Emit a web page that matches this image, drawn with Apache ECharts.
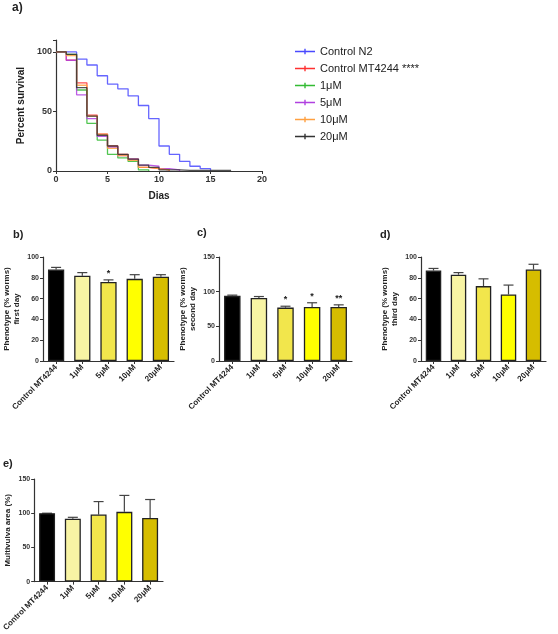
<!DOCTYPE html>
<html><head><meta charset="utf-8">
<script src="https://cdn.jsdelivr.net/npm/echarts@6/dist/echarts.min.js"></script>
<style>html,body{margin:0;background:#fff}#c{width:558px;height:634px}</style>
</head><body><div id="c"></div>
<script>
var days = [0,1,2,3,4,5,6,7,8,9,10,11,12,13,14,15,16,17];
var survN2 = [100,100,94,89,80,73,69,63,55,44,21,14,8,4,2,0];
var survMT = [100,93,74,47,31,21,14,10,3,2,1,0];
var surv1 = [100,98,68,40,26,14,11,8,1,0];
var surv5 = [100,93,64,44,29,20,13,10,5,4,2,1,0];
var surv10 = [100,97,72,46,31,19,13,9,3,2,1,0];
var surv20 = [100,98,70,46,30,21,14,10,5,3,1,1,0.5,0.5,0.5,0.5,0.5,0.5];

var groups = ['Control MT4244','1μM','5μM','10μM','20μM'];
var firstDay = [88,82,76,79,81];
var firstErr = [2,3,2,4,2];
var firstSig = ['','','*','',''];
var secondDay = [94,91,77,78,78];
var secondErr = [1,2,2,6,3];
var secondSig = ['','','*','*','**'];
var thirdDay = [87,83,72,64,88];
var thirdErr = [2,2,7,9,5];
var thirdSig = ['','','','',''];
var area = [100,92,98,102,93];
var areaErr = [0,2,19,24,27];
var areaSig = ['','','','',''];

var barColors = ['#000000','#f8f4a4','#f2e64c','#ffff00','#d6bd00'];
var F = 'Arial, Liberation Sans, sans-serif';

var chart = echarts.init(document.getElementById('c'));
var grids = [
  {left:56,top:40,width:206,height:131},
  {left:43,top:257,width:131,height:104},
  {left:219,top:257,width:133,height:104},
  {left:421,top:257,width:125,height:104},
  {left:31,top:479,width:132,height:103}
];
function yAx(gi,max,intv,name){
  return {type:'value',gridIndex:gi,min:0,max:max,interval:intv,name:name,nameLocation:'middle',
    nameGap:gi===0?30:21,nameTextStyle:{fontFamily:F,fontWeight:'bold',fontSize:gi===0?10:8,color:'#222',lineHeight:10},
    axisLine:{show:true,lineStyle:{color:'#333',width:1.2}},axisTick:{show:true,length:3,lineStyle:{color:'#333'}},
    splitLine:{show:false},axisLabel:{fontFamily:F,fontWeight:'bold',fontSize:gi===0?9:7,color:'#333',margin:4}};
}
function xCat(gi){
  return {type:'category',gridIndex:gi,data:groups,axisLine:{lineStyle:{color:'#333',width:1.2}},
    axisTick:{show:true,alignWithLabel:true,length:3,lineStyle:{color:'#333'}},
    axisLabel:{rotate:45,interval:0,fontFamily:F,fontWeight:'bold',fontSize:8,color:'#222',margin:5}};
}
var xAxes = [{type:'value',gridIndex:0,min:0,max:20,interval:5,name:'Dias',nameLocation:'middle',nameGap:20,
  nameTextStyle:{fontFamily:F,fontWeight:'bold',fontSize:10,color:'#222'},
  axisLine:{lineStyle:{color:'#333',width:1.2}},axisTick:{length:3,lineStyle:{color:'#333'}},splitLine:{show:false},
  axisLabel:{fontFamily:F,fontWeight:'bold',fontSize:9,color:'#333',margin:4}}];
var yAxes = [yAx(0,110,50,'Percent survival')];
yAxes[0].axisLabel.formatter = function(v){return v<=100?v:'';};
xAxes.push(xCat(1),xCat(2),xCat(3),xCat(4));
yAxes.push(yAx(1,100,20,'Phenotype (% worms)\nfirst day'),
  yAx(2,150,50,'Phenotype (% worms)\nsecond day'),
  yAx(3,100,20,'Phenotype (% worms)\nthird day'),
  yAx(4,150,50,'Multivulva area (%)'));

var series = [];
var surv = [['Control N2',survN2,'#4a4aff'],['Control MT4244 ****',survMT,'#ff3030'],['1μM',surv1,'#33bb33'],
  ['5μM',surv5,'#b040e0'],['10μM',surv10,'#ffa040'],['20μM',surv20,'#333333']];
surv.forEach(function(s){
  series.push({type:'line',name:s[0],xAxisIndex:0,yAxisIndex:0,step:'end',symbol:'none',
    data:s[1].map(function(v,i){return [days[i],v];}),
    lineStyle:{color:s[2],width:1.3,opacity:0.85},itemStyle:{color:s[2]}});
});
function addBars(gi,vals,errs,sig){
  series.push({type:'bar',xAxisIndex:gi,yAxisIndex:gi,barWidth:'62%',
    data:vals.map(function(v,i){return {value:v,itemStyle:{color:barColors[i],borderColor:'#222',borderWidth:1.3}};})});
  series.push({type:'custom',xAxisIndex:gi,yAxisIndex:gi,z:1,
    data:vals.map(function(v,i){return [i,v,v+errs[i],sig[i]];}),
    renderItem:function(params,api){
      var p0=api.coord([api.value(0),api.value(1)]);
      var p1=api.coord([api.value(0),api.value(2)]);
      var w=5;
      var ch=[{type:'line',shape:{x1:p0[0],y1:p0[1],x2:p1[0],y2:p1[1]},style:{stroke:'#444',lineWidth:1.2}},
        {type:'line',shape:{x1:p1[0]-w,y1:p1[1],x2:p1[0]+w,y2:p1[1]},style:{stroke:'#444',lineWidth:1.2}}];
      var s=sig[params.dataIndex];
      if(s) ch.push({type:'text',style:{text:s,x:p1[0],y:p1[1]-2,align:'center',verticalAlign:'bottom',fontSize:9,fontWeight:'bold',fill:'#222'}});
      return {type:'group',children:ch};
    }});
}
addBars(1,firstDay,firstErr,firstSig);
addBars(2,secondDay,secondErr,secondSig);
addBars(3,thirdDay,thirdErr,thirdSig);
addBars(4,area,areaErr,areaSig);

chart.setOption({
  animation:false,
  grid:grids,
  xAxis:xAxes,
  yAxis:yAxes,
  legend:{left:290,top:41,orient:'vertical',itemGap:6,itemWidth:20,itemHeight:7,
    icon:'path://M0,4h20v1.5h-20zM9.3,2h1.4v5.5h-1.4z',
    data:surv.map(function(s){return s[0];}),
    textStyle:{fontFamily:F,fontSize:11,color:'#222'}},
  graphic:[
    {type:'text',left:12,top:2,style:{text:'a)',font:'bold 12px Arial, sans-serif',fill:'#222'}},
    {type:'text',left:13,top:229,style:{text:'b)',font:'bold 11px Arial, sans-serif',fill:'#222'}},
    {type:'text',left:197,top:227,style:{text:'c)',font:'bold 11px Arial, sans-serif',fill:'#222'}},
    {type:'text',left:380,top:229,style:{text:'d)',font:'bold 11px Arial, sans-serif',fill:'#222'}},
    {type:'text',left:3,top:458,style:{text:'e)',font:'bold 11px Arial, sans-serif',fill:'#222'}}
  ],
  series:series
});
</script></body></html>
